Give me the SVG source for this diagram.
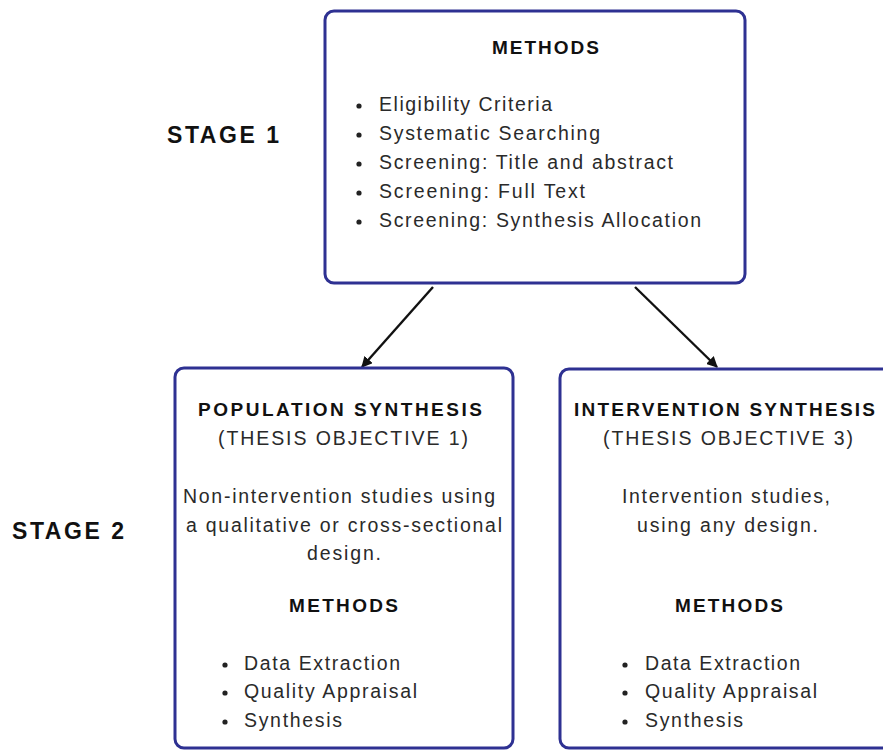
<svg xmlns="http://www.w3.org/2000/svg" width="883" height="751" viewBox="0 0 883 751">
  <defs>
    <style>
      .box { fill: #ffffff; stroke: #2e3192; stroke-width: 3; }
      .t { font-family: "Liberation Sans", Arial, sans-serif; font-size: 19.5px; fill: #2a2a2a; }
      .b { font-family: "Liberation Sans", Arial, sans-serif; font-size: 19px; font-weight: bold; fill: #111111; }
      .stage { font-family: "Liberation Sans", Arial, sans-serif; font-size: 23px; font-weight: bold; fill: #111111; }
      .dot { fill: #222222; }
      .link { stroke: #111111; stroke-width: 2.4; fill: none; marker-end: url(#head); }
    </style>
    <marker id="head" viewBox="0 0 10 10" refX="9" refY="5" markerWidth="4.6" markerHeight="4.6" orient="auto" markerUnits="strokeWidth">
      <path d="M0,0 L10,5 L0,10 Z" fill="#111111"/>
    </marker>
  </defs>
  <rect width="883" height="751" fill="#ffffff"/>

  <!-- stage labels -->
  <g id="stage-labels">
    <text class="stage" x="167" y="143" textLength="112" lengthAdjust="spacing">STAGE 1</text>
    <text class="stage" x="12" y="539" textLength="112" lengthAdjust="spacing">STAGE 2</text>
  </g>

  <!-- connectors -->
  <g id="connectors">
    <line class="link" x1="433" y1="287" x2="362" y2="367"/>
    <line class="link" x1="635" y1="287" x2="717" y2="367"/>
  </g>

  <!-- stage 1: methods -->
  <g id="methods">
    <rect class="box" x="325" y="11" width="420" height="272" rx="9"/>
    <text class="b" x="492" y="54" textLength="107" lengthAdjust="spacing">METHODS</text>
    <circle class="dot" cx="359" cy="106" r="2.6"/>
    <circle class="dot" cx="359" cy="135" r="2.6"/>
    <circle class="dot" cx="359" cy="164" r="2.6"/>
    <circle class="dot" cx="359" cy="193" r="2.6"/>
    <circle class="dot" cx="359" cy="222" r="2.6"/>
    <text class="t" x="379" y="111" textLength="173" lengthAdjust="spacing">Eligibility Criteria</text>
    <text class="t" x="379" y="140" textLength="221" lengthAdjust="spacing">Systematic Searching</text>
    <text class="t" x="379" y="169" textLength="294" lengthAdjust="spacing">Screening: Title and abstract</text>
    <text class="t" x="379" y="198" textLength="206" lengthAdjust="spacing">Screening: Full Text</text>
    <text class="t" x="379" y="227" textLength="322" lengthAdjust="spacing">Screening: Synthesis Allocation</text>
  </g>

  <!-- stage 2: population synthesis -->
  <g id="population-synthesis">
    <rect class="box" x="175" y="368" width="338" height="380" rx="9"/>
    <text class="b" x="198" y="416" textLength="284" lengthAdjust="spacing">POPULATION SYNTHESIS</text>
    <text class="t" x="218" y="445" textLength="250" lengthAdjust="spacing">(THESIS OBJECTIVE 1)</text>
    <text class="t" x="183" y="503" textLength="312" lengthAdjust="spacing">Non-intervention studies using</text>
    <text class="t" x="186" y="532" textLength="316" lengthAdjust="spacing">a qualitative or cross-sectional</text>
    <text class="t" x="307" y="560" textLength="74" lengthAdjust="spacing">design.</text>
    <text class="b" x="289" y="612" textLength="109" lengthAdjust="spacing">METHODS</text>
    <circle class="dot" cx="225" cy="665" r="2.6"/>
    <circle class="dot" cx="225" cy="693" r="2.6"/>
    <circle class="dot" cx="225" cy="722" r="2.6"/>
    <text class="t" x="244" y="670" textLength="156" lengthAdjust="spacing">Data Extraction</text>
    <text class="t" x="244" y="698" textLength="173" lengthAdjust="spacing">Quality Appraisal</text>
    <text class="t" x="244" y="727" textLength="98" lengthAdjust="spacing">Synthesis</text>
  </g>

  <!-- stage 2: intervention synthesis -->
  <g id="intervention-synthesis">
    <rect class="box" x="560" y="369" width="339" height="379" rx="9"/>
    <text class="b" x="574" y="416" textLength="301" lengthAdjust="spacing">INTERVENTION SYNTHESIS</text>
    <text class="t" x="603" y="445" textLength="250" lengthAdjust="spacing">(THESIS OBJECTIVE 3)</text>
    <text class="t" x="622" y="503" textLength="208" lengthAdjust="spacing">Intervention studies,</text>
    <text class="t" x="637" y="532" textLength="181" lengthAdjust="spacing">using any design.</text>
    <text class="b" x="675" y="612" textLength="108" lengthAdjust="spacing">METHODS</text>
    <circle class="dot" cx="625" cy="665" r="2.6"/>
    <circle class="dot" cx="625" cy="693" r="2.6"/>
    <circle class="dot" cx="625" cy="722" r="2.6"/>
    <text class="t" x="645" y="670" textLength="155" lengthAdjust="spacing">Data Extraction</text>
    <text class="t" x="645" y="698" textLength="172" lengthAdjust="spacing">Quality Appraisal</text>
    <text class="t" x="645" y="727" textLength="98" lengthAdjust="spacing">Synthesis</text>
  </g>
</svg>
